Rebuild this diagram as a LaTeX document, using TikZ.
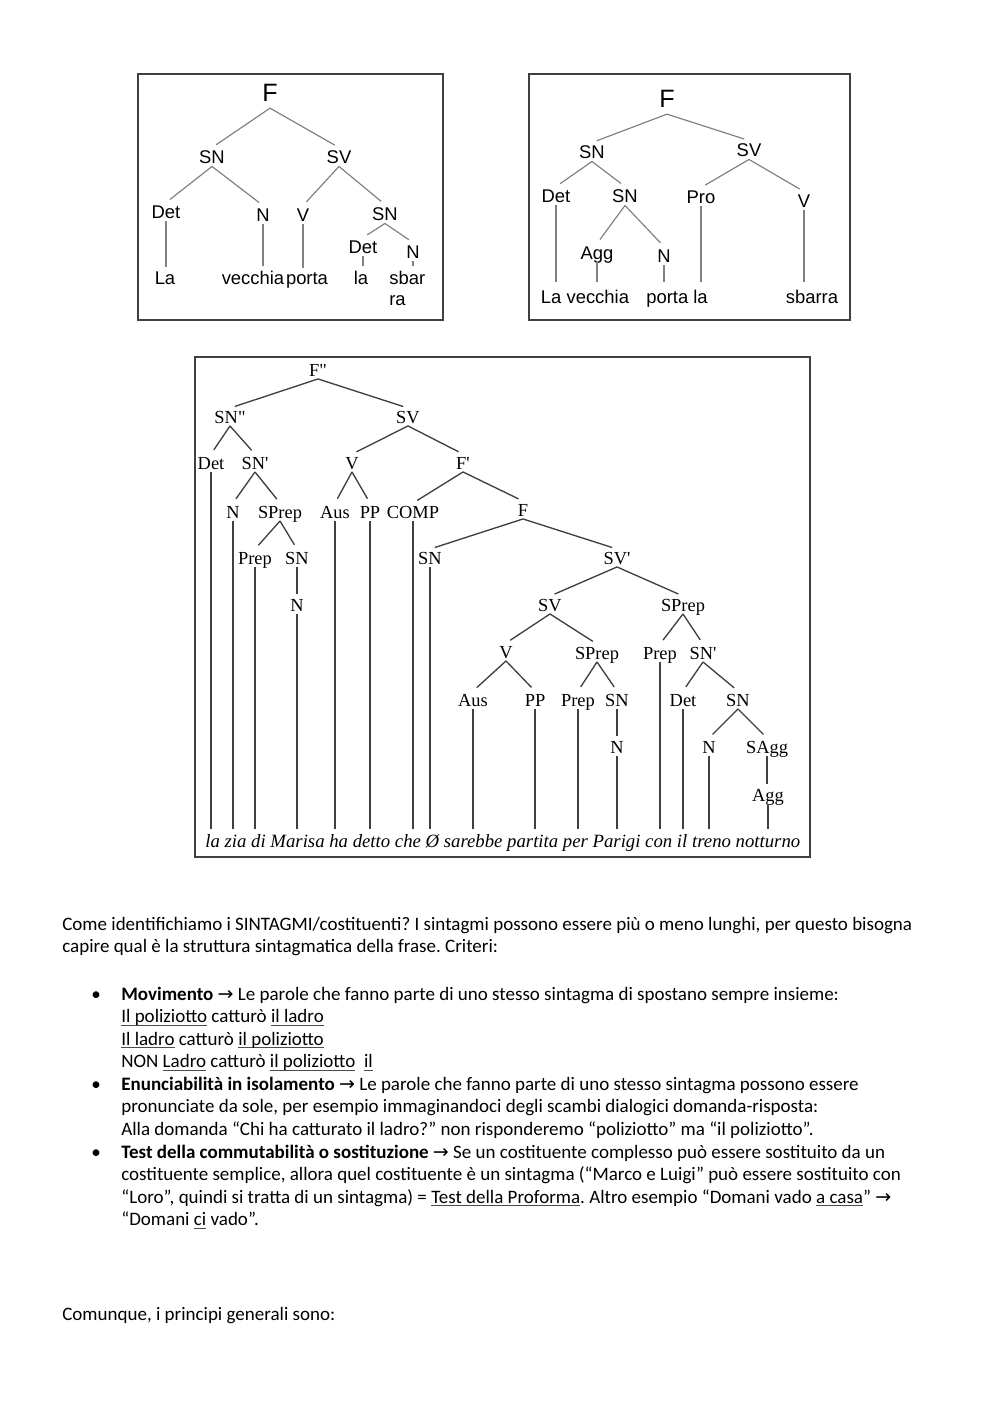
\documentclass[tikz,border=0pt]{standalone}
\usepackage{fontspec}
\setmainfont{Carlito}
\newfontfamily\alberosans{Liberation Sans}
\newfontfamily\alberoserif{Liberation Serif}[Ligatures=TeXOff]
\newfontfamily\simboli{DejaVu Sans}
\newcommand{\freccia}{{\simboli →}}
\newcommand{\sotto}[1]{\setbox0\hbox{#1}\rlap{\color{black!70}\rule[-1.8pt]{\wd0}{0.45pt}}\box0\relax}
\frenchspacing
\begin{document}
\begin{tikzpicture}[x=0.021cm, y=-0.021cm,
    lsans/.style={font=\alberosans\fontsize{11}{13}\selectfont, text height=7.9pt, text depth=0pt, inner sep=1.5pt},
    lserif/.style={font=\alberoserif\fontsize{11}{13}\selectfont, text height=7.3pt, text depth=0pt, inner sep=1.5pt},
    parola/.style={font=\alberosans\fontsize{11}{12.6}\selectfont, inner sep=1.5pt},
    ramo/.style={line width=.7pt, black!50, shorten >=3pt},
    ramoserif/.style={line width=.8pt, black!75, shorten >=3pt},
    cornice/.style={line width=.9pt, black!75},
    riga/.style={anchor=base west, inner sep=0pt, font=\fontsize{11.35}{13.6}\selectfont}]
  \useasboundingbox[fill=white] (0,0) rectangle (1000,1415);

  \draw[cornice] (138,74) rectangle (443,320);
  \node[lsans, font=\alberosans\fontsize{15}{17}\selectfont, text height=10.7pt, inner sep=3.5pt] (aF) at (270,93) {F};
  \foreach \n/\x/\y/\t in {aSN/212/157/SN, aSV/339/157/SV, aDet/166/212/Det, aN/263/215/N,
      aV/303/215/V, aSNb/385/214/SN, aDetb/363/247/Det, aNb/413/252/N}
    \node[lsans] (\n) at (\x,\y) {\t};
  \foreach \n/\x/\t in {aw1/165/La, aw2/253/vecchia, aw3/307/porta, aw4/361/la}
    \node[parola, anchor=base] (\n) at (\x,284) {\t};
  \node[parola, align=left, anchor=north west] (aw5) at (386.5,268) {sbar\\ra};
  \foreach \p/\c in {aF/aSN, aF/aSV, aSN/aDet, aSN/aN, aSV/aV, aSV/aSNb, aSNb/aDetb, aSNb/aNb}
    \draw[ramo] (\p.south) -- (\c.north);
  \foreach \p/\c in {aDet/aw1, aN/aw2, aV/aw3, aDetb/aw4, aNb/aw5}
    \draw[ramo, shorten >=1pt] (\p.south) -- (\p.south |- \c.north);

  \draw[cornice] (529,74) rectangle (850,320);
  \node[lsans, font=\alberosans\fontsize{15}{17}\selectfont, text height=10.7pt, inner sep=3.5pt] (bF) at (667,99) {F};
  \foreach \n/\x/\y/\t in {bSN/592/152/SN, bSV/749/150/SV, bDet/556/196/Det, bSNb/625/196/SN,
      bPro/701/197/Pro, bV/804/201/V, bAgg/597/253/Agg, bN/664/256/N}
    \node[lsans] (\n) at (\x,\y) {\t};
  \foreach \n/\x/\t in {bw1/585/La vecchia, bw2/677/porta la, bw3/812/sbarra}
    \node[parola, anchor=base] (\n) at (\x,303) {\t};
  \foreach \p/\c in {bF/bSN, bF/bSV, bSN/bDet, bSN/bSNb, bSV/bPro, bSV/bV, bSNb/bAgg, bSNb/bN}
    \draw[ramo] (\p.south) -- (\c.north);
  \foreach \p/\c in {bDet/bw1, bAgg/bw1, bN/bw2, bPro/bw2, bV/bw3}
    \draw[ramo] (\p.south) -- (\p.south |- \c.north);

  \draw[cornice] (195,357) rectangle (810,857);
  \foreach \n/\x/\y/\t in {cFs/318/370/F", cSNs/230/417/SN", cSV/408/417/SV, cDet/211/463/Det,
      cSNp/255/463/SN', cV/352/463/V, cFp/463/463/F', cN/233/512/N, cSPrep/280/512/SPrep,
      cAus/335/512/Aus, cPP/370/512/PP, cCOMP/413/512/COMP, cF/523/510/F, cPrep/255/558/Prep,
      cSN/297/558/SN, cSNb/430/558/SN, cSVp/617/558/SV', cNb/297/605/N, cSVb/550/605/SV,
      cSPrepb/683/605/SPrep, cVb/506/652/V, cSPrepc/597/653/SPrep, cPrepb/660/653/Prep,
      cSNpb/703/653/SN', cAusb/473/700/Aus, cPPb/535/700/PP, cPrepc/578/700/Prep,
      cSNc/617/700/SN, cDetb/683/700/Det, cSNd/738/700/SN, cNc/617/747/N, cNd/709/747/N,
      cSAgg/767/747/SAgg, cAgg/768/795/Agg}
    \node[lserif] (\n) at (\x,\y) {\t};
  \node[lserif, font=\alberoserif\itshape\fontsize{11.2}{13}\selectfont, text height=7.6pt,
      inner sep=3pt, anchor=base west] (cfrase) at (200,847)
    {la zia di Marisa ha detto che Ø sarebbe partita per Parigi con il treno notturno};
  \foreach \p/\c in {cFs/cSNs, cFs/cSV, cSNs/cDet, cSNs/cSNp, cSV/cV, cSV/cFp, cSNp/cN,
      cSNp/cSPrep, cV/cAus, cV/cPP, cFp/cCOMP, cFp/cF, cSPrep/cPrep, cSPrep/cSN, cF/cSNb,
      cF/cSVp, cSVp/cSVb, cSVp/cSPrepb, cSVb/cVb, cSVb/cSPrepc, cSPrepb/cPrepb, cSPrepb/cSNpb,
      cVb/cAusb, cVb/cPPb, cSPrepc/cPrepc, cSPrepc/cSNc, cSNpb/cDetb, cSNpb/cSNd,
      cSNd/cNd, cSNd/cSAgg}
    \draw[ramoserif] (\p.south) -- (\c.north);
  \foreach \p/\c in {cSN/cNb, cSNc/cNc, cSAgg/cAgg}
    \draw[ramoserif, shorten >=1pt] (\p.south) -- (\p.south |- \c.north);
  \foreach \p in {cDet, cN, cPrep, cNb, cAus, cPP, cCOMP, cSNb, cAusb, cPPb, cPrepc, cNc,
      cPrepb, cDetb, cNd, cAgg}
    \draw[ramoserif, shorten >=0pt] (\p.south) -- (\p.south |- cfrase.north);

  \foreach \n/\x/\y/\t in {
      r1/62/930/{Come identifichiamo i SINTAGMI/costituenti? I sintagmi possono essere più o meno lunghi, per questo bisogna},
      r2/62/952/{capire qual è la struttura sintagmatica della frase. Criteri:},
      r3/121/1000/{\textbf{Movimento} \freccia{} Le parole che fanno parte di uno stesso sintagma di spostano sempre insieme:},
      r4/121/1022.5/{\sotto{Il poliziotto} catturò \sotto{il ladro}},
      r5/121/1045/{\sotto{Il ladro} catturò \sotto{il poliziotto}},
      r6/121/1067.5/{NON \sotto{Ladro} catturò \sotto{il poliziotto}\ \ \sotto{il}},
      r7/121/1090/{\textbf{Enunciabilità in isolamento} \freccia{} Le parole che fanno parte di uno stesso sintagma possono essere},
      r8/121/1112.5/{pronunciate da sole, per esempio immaginandoci degli scambi dialogici domanda-risposta:},
      r9/121/1135/{Alla domanda “Chi ha catturato il ladro?” non risponderemo “poliziotto” ma “il poliziotto”.},
      r10/121/1158/{\textbf{Test della commutabilità o sostituzione} \freccia{} Se un costituente complesso può essere sostituito da un},
      r11/121/1180.5/{costituente semplice, allora quel costituente è un sintagma (“Marco e Luigi” può essere sostituito con},
      r12/121/1203/{“Loro”, quindi si tratta di un sintagma) = \sotto{Test della Proforma}. Altro esempio “Domani vado \sotto{a casa}” \freccia},
      r13/121/1225.5/{“Domani \sotto{ci} vado”.},
      r14/62/1320/{Comunque, i principi generali sono:}}
    \node[riga] (\n) at (\x,\y) {\t};
  \foreach \n/\y in {p1/1000, p2/1090, p3/1158}
    \node[riga] (\n) at (91,\y) {•};
\end{tikzpicture}
\end{document}
